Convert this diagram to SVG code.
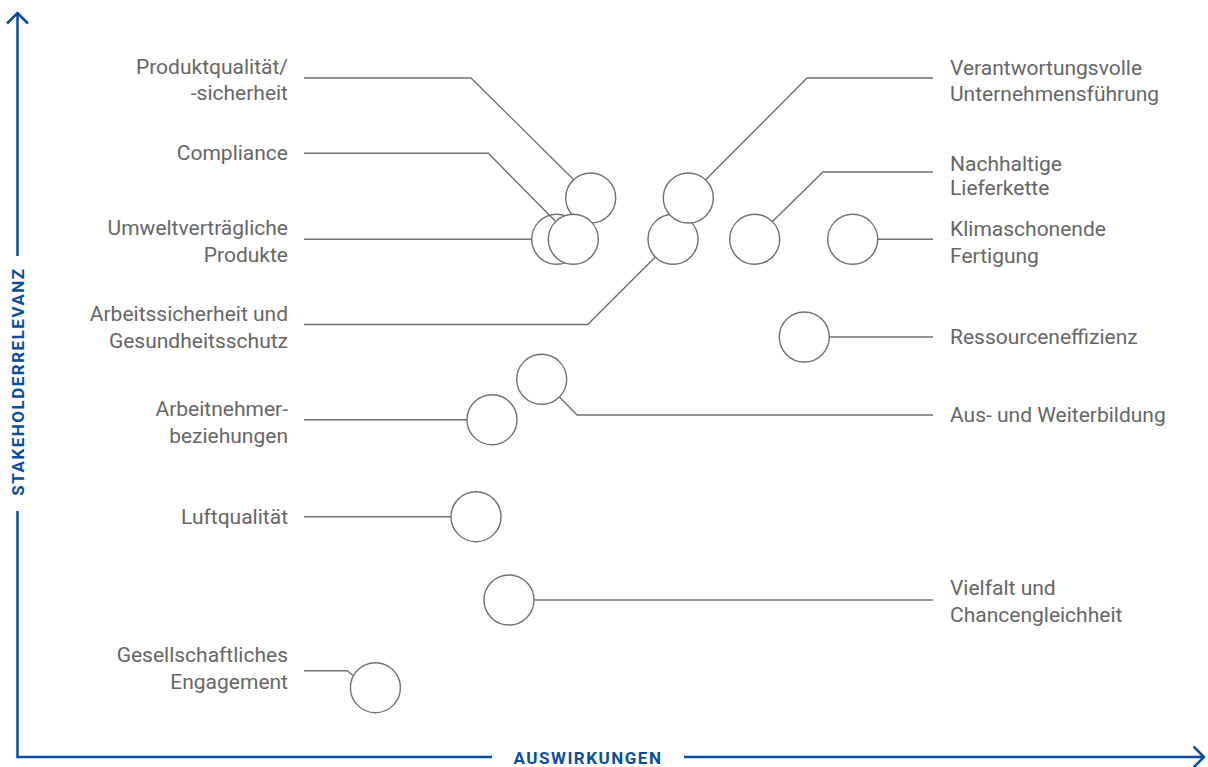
<svg xmlns="http://www.w3.org/2000/svg" width="1208" height="767" viewBox="0 0 1208 767">
<style>
.lbl{font-family:Roboto,"Liberation Sans",Arial,sans-serif;font-size:21px;fill:#666666}
.l{text-anchor:end}
.ax{fill:none;stroke:#0b4d9b;stroke-width:2.5}
.axt{font-family:Roboto,"Liberation Sans",Arial,sans-serif;font-size:17px;font-weight:bold;fill:#0b4d9b;letter-spacing:1.5px}
.c{fill:#ffffff;stroke:#707070;stroke-width:1.4}
.ln{fill:none;stroke:#707070;stroke-width:1.4}
</style>
<rect width="1208" height="767" fill="#ffffff"/>
<g id="axes">
<path class="ax" d="M17.5,256 V13 M7,23.5 L17.5,13 L28,23.5"/>
<path class="ax" d="M17.5,511 V757 H492"/>
<path class="ax" d="M684,757 H1204 M1193.5,746.5 L1204,757 L1193.5,767.5"/>
<text class="axt" transform="translate(23.6,381.5) rotate(-90)" text-anchor="middle">STAKEHOLDERRELEVANZ</text>
<text class="axt" x="588" y="763.5" text-anchor="middle">AUSWIRKUNGEN</text>
</g>
<g id="node-umwelt">
<circle class="c" cx="556.7" cy="239.3" r="25"/>
<text class="lbl l" x="288" y="235">Umweltverträgliche</text>
<text class="lbl l" x="288" y="262">Produkte</text>
</g>
<g id="connectors">
<path class="ln" d="M304,78 H471 L573.3,179.3"/>
<path class="ln" d="M304,153.3 H488.3 L555.7,221.5"/>
<path class="ln" d="M304,239.3 H531.7"/>
<path class="ln" d="M304,324.5 H587.7 L655.3,257"/>
<path class="ln" d="M933,78 H807 L706,179.5"/>
<path class="ln" d="M933,172 H823 L772.4,221.6"/>
<path class="ln" d="M933,239.3 H877.7"/>
<path class="ln" d="M933,337 H829.3"/>
<path class="ln" d="M933,415 H577 L559.4,397"/>
<path class="ln" d="M304,419.7 H467"/>
<path class="ln" d="M304,516.7 H451"/>
<path class="ln" d="M933,600 H534"/>
<path class="ln" d="M304,670.7 H347.3 L353,675.5"/>
</g>
<g id="node-produktqualitaet">
<circle class="c" cx="590.7" cy="198" r="25"/>
<text class="lbl l" x="288" y="73.5">Produktqualität/</text>
<text class="lbl l" x="288" y="100">-sicherheit</text>
</g>
<g id="node-compliance">
<circle class="c" cx="573.3" cy="239.3" r="25"/>
<text class="lbl l" x="288" y="160">Compliance</text>
</g>
<g id="node-arbeitssicherheit">
<circle class="c" cx="673" cy="239.3" r="25"/>
<text class="lbl l" x="288" y="321">Arbeitssicherheit und</text>
<text class="lbl l" x="288" y="348">Gesundheitsschutz</text>
</g>
<g id="node-verantwortung">
<circle class="c" cx="688.3" cy="198" r="25"/>
<text class="lbl" x="950" y="74.5">Verantwortungsvolle</text>
<text class="lbl" x="950" y="101">Unternehmensführung</text>
</g>
<g id="node-lieferkette">
<circle class="c" cx="754.7" cy="239.3" r="25"/>
<text class="lbl" x="950" y="170.5">Nachhaltige</text>
<text class="lbl" x="950" y="195">Lieferkette</text>
</g>
<g id="node-klima">
<circle class="c" cx="852.7" cy="239.3" r="25"/>
<text class="lbl" x="950" y="235.5">Klimaschonende</text>
<text class="lbl" x="950" y="262.5">Fertigung</text>
</g>
<g id="node-ressourcen">
<circle class="c" cx="804.3" cy="337" r="25"/>
<text class="lbl" x="950" y="344">Ressourceneffizienz</text>
</g>
<g id="node-bildung">
<circle class="c" cx="541.7" cy="379.3" r="25"/>
<text class="lbl" x="950" y="422">Aus- und Weiterbildung</text>
</g>
<g id="node-arbeitnehmer">
<circle class="c" cx="492" cy="419.7" r="25"/>
<text class="lbl l" x="288" y="415.5">Arbeitnehmer-</text>
<text class="lbl l" x="288" y="442.5">beziehungen</text>
</g>
<g id="node-luft">
<circle class="c" cx="476" cy="516.7" r="25"/>
<text class="lbl l" x="288" y="524">Luftqualität</text>
</g>
<g id="node-vielfalt">
<circle class="c" cx="509" cy="600" r="25"/>
<text class="lbl" x="950" y="594.5">Vielfalt und</text>
<text class="lbl" x="950" y="621.5">Chancengleichheit</text>
</g>
<g id="node-engagement">
<circle class="c" cx="375.4" cy="687.7" r="25"/>
<text class="lbl l" x="288" y="662">Gesellschaftliches</text>
<text class="lbl l" x="288" y="688.5">Engagement</text>
</g>
</svg>
